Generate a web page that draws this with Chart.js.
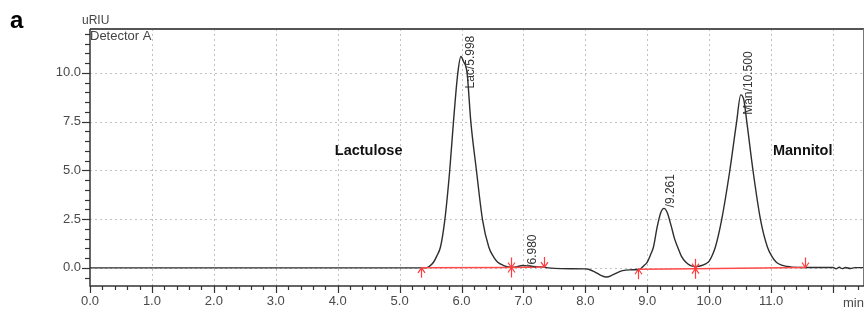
<!DOCTYPE html>
<html>
<head>
<meta charset="utf-8">
<script src="https://cdn.jsdelivr.net/npm/chart.js@4/dist/chart.umd.min.js"></script>
<style>
  html, body { margin: 0; padding: 0; background: #fff; }
  #wrap { position: relative; width: 865px; height: 309px; }
</style>
</head>
<body>
<div id="wrap"><canvas id="c"></canvas></div>
<script>
// ---- Data ----
const retentionTime = [0, 1, 2, 3, 4, 5, 5.40, 5.47, 5.55, 5.60, 5.66, 5.73, 5.81, 5.87, 5.94, 5.99, 6.03, 6.09, 6.15, 6.24, 6.34, 6.44, 6.52, 6.58, 6.68, 6.76, 6.85, 6.92, 6.98, 7.05, 7.15, 7.30, 7.40, 7.60, 8.00, 8.05, 8.15, 8.25, 8.34, 8.45, 8.60, 8.75, 8.88, 8.94, 9.00, 9.05, 9.10, 9.16, 9.22, 9.27, 9.32, 9.39, 9.44, 9.49, 9.55, 9.62, 9.70, 9.80, 9.88, 9.95, 10.00, 10.05, 10.10, 10.20, 10.33, 10.44, 10.51, 10.56, 10.61, 10.71, 10.83, 10.94, 11.02, 11.08, 11.16, 11.26, 11.34, 11.50, 11.80, 12.00, 12.05, 12.10, 12.15, 12.20, 12.28, 12.35, 12.50];
const signal = [0, 0, 0, 0, 0, 0, 0.0, 0.05, 0.3, 0.6, 1.07, 2.45, 5.02, 7.5, 9.99, 10.84, 10.6, 9.99, 7.5, 5.02, 2.45, 1.07, 0.55, 0.3, 0.12, 0.05, 0.04, 0.08, 0.12, 0.10, 0.07, 0.05, 0.0, -0.04, -0.05, -0.07, -0.2, -0.38, -0.47, -0.35, -0.14, -0.1, -0.07, 0.1, 0.3, 0.65, 1.07, 2.1, 2.85, 3.05, 2.85, 2.1, 1.5, 1.07, 0.6, 0.3, 0.12, 0.07, 0.12, 0.22, 0.35, 0.65, 1.07, 2.45, 4.93, 7.42, 8.87, 8.6, 7.42, 4.93, 2.45, 1.07, 0.55, 0.3, 0.15, 0.07, 0.04, 0.02, 0.02, 0.02, -0.05, 0.03, -0.04, 0.02, -0.03, 0.01, 0.01];

const integrationTimes  = [5.35, 6.80, 7.33, 8.85, 9.77, 11.55];
const integrationLevels = [0.0, 0.02, 0.04, -0.07, -0.04, 0.02];
const integrationMarks  = ['up', 'both', 'down', 'up', 'both', 'down'];

const peakLabelText  = ['Lac/5.998', '/6.980', '/9.261', 'Man/10.500'];
const peakLabelTime  = [6.14, 7.15, 9.38, 10.64];
const peakLabelLevel = [9.2, 0.0, 3.1, 7.85];

const compoundNames = ['Lactulose', 'Mannitol'];
const compoundTime  = [4.5, 11.51];
const compoundLevel = [6.0, 6.0];

const xTickValues = [0, 1, 2, 3, 4, 5, 6, 7, 8, 9, 10, 11, 12];
const xTickLabels = ['0.0', '1.0', '2.0', '3.0', '4.0', '5.0', '6.0', '7.0', '8.0', '9.0', '10.0', '11.0', 'min'];
const yTickValues = [0, 2.5, 5, 7.5, 10];
const yTickLabels = ['0.0', '2.5', '5.0', '7.5', '10.0'];

// ---- Build datasets ----
const tracePoints = retentionTime.map((t, i) => ({ x: t, y: signal[i] }));
const basePoints = [];
integrationTimes.forEach((t, i) => {
  basePoints.push({ x: t, y: integrationLevels[i] });
  if (integrationMarks[i] === 'down' && i < integrationTimes.length - 1) {
    basePoints.push({ x: (t + integrationTimes[i + 1]) / 2, y: null });
  }
});

const FONT = '"Liberation Sans", Arial, sans-serif';

const decor = {
  id: 'decor',
  beforeDatasetsDraw(chart) {
    const { ctx, chartArea: a, scales: { x, y } } = chart;
    ctx.save();
    ctx.strokeStyle = '#c2c2c2';
    ctx.lineWidth = 1;
    ctx.setLineDash([2, 3]);
    xTickValues.forEach(v => {
      if (v === 0) return;
      const px = Math.round(x.getPixelForValue(v)) + 0.5;
      ctx.beginPath(); ctx.moveTo(px, a.top); ctx.lineTo(px, a.bottom); ctx.stroke();
    });
    yTickValues.forEach(v => {
      const py = Math.round(y.getPixelForValue(v)) + 0.5;
      ctx.beginPath(); ctx.moveTo(a.left, py); ctx.lineTo(a.right, py); ctx.stroke();
    });
    ctx.restore();
  },
  afterDatasetsDraw(chart) {
    const { ctx, chartArea: a, scales: { x, y } } = chart;
    ctx.save();
    // frame
    ctx.setLineDash([]);
    ctx.strokeStyle = '#555';
    ctx.lineWidth = 2;
    ctx.beginPath(); ctx.moveTo(a.left, a.top); ctx.lineTo(a.right, a.top); ctx.stroke();
    ctx.lineWidth = 1;
    ctx.strokeStyle = '#777';
    ctx.beginPath(); ctx.moveTo(a.right - 0.5, a.top); ctx.lineTo(a.right - 0.5, a.bottom); ctx.stroke();
    ctx.strokeStyle = '#333';
    ctx.lineWidth = 1.5;
    ctx.beginPath(); ctx.moveTo(a.left, a.top); ctx.lineTo(a.left, a.bottom); ctx.lineTo(a.right, a.bottom); ctx.stroke();
    // x ticks (major 1.0, minor 0.2)
    ctx.lineWidth = 1.2;
    for (let k = 0; k <= 62; k++) {
      const v = k * 0.2;
      if (v > x.max) break;
      const px = Math.round(x.getPixelForValue(v)) + 0.5;
      const major = k % 5 === 0;
      ctx.beginPath(); ctx.moveTo(px, a.bottom); ctx.lineTo(px, a.bottom + (major ? 7 : 4)); ctx.stroke();
    }
    // y ticks (major 2.5, minor 0.5)
    for (let k = -1; k <= 24; k++) {
      const v = k * 0.5;
      if (v > y.max || v < y.min) continue;
      const py = Math.round(y.getPixelForValue(v)) + 0.5;
      const major = k % 5 === 0;
      ctx.beginPath(); ctx.moveTo(a.left, py); ctx.lineTo(a.left - (major ? 8 : 5), py); ctx.stroke();
    }
    // "min" unit label
    ctx.fillStyle = '#4a4a4a';
    ctx.font = '13px ' + FONT;
    ctx.textAlign = 'left';
    ctx.textBaseline = 'middle';
    const minIdx = xTickLabels.indexOf('min');
    ctx.fillText('min', x.getPixelForValue(xTickValues[minIdx]) + 10, a.bottom + 17);
    // axis header
    ctx.fillStyle = '#444';
    ctx.font = '12px ' + FONT;
    ctx.fillText('uRIU', 82, 21);
    ctx.font = '13px ' + FONT;
    ctx.fillText('Detector A', a.left, 36);
    // panel letter
    ctx.fillStyle = '#000';
    ctx.font = 'bold 24px ' + FONT;
    ctx.fillText('a', 10, 21);
    // integration markers
    ctx.strokeStyle = '#ff3b3b';
    ctx.lineWidth = 1.2;
    integrationTimes.forEach((t, i) => {
      const px = Math.round(x.getPixelForValue(t)) + 0.5;
      const py = y.getPixelForValue(integrationLevels[i]);
      const m = integrationMarks[i];
      if (m === 'up' || m === 'both') {
        ctx.beginPath();
        ctx.moveTo(px, py + 10); ctx.lineTo(px, py);
        ctx.moveTo(px - 3.5, py + 5); ctx.lineTo(px, py); ctx.lineTo(px + 3.5, py + 5);
        ctx.stroke();
      }
      if (m === 'down' || m === 'both') {
        ctx.beginPath();
        ctx.moveTo(px, py - 10); ctx.lineTo(px, py);
        ctx.moveTo(px - 3.5, py - 5); ctx.lineTo(px, py); ctx.lineTo(px + 3.5, py - 5);
        ctx.stroke();
      }
    });
    // peak labels (rotated)
    ctx.fillStyle = '#333';
    ctx.font = '12px ' + FONT;
    ctx.textAlign = 'left';
    ctx.textBaseline = 'middle';
    peakLabelText.forEach((txt, i) => {
      const px = x.getPixelForValue(peakLabelTime[i]);
      const py = y.getPixelForValue(peakLabelLevel[i]);
      ctx.save();
      ctx.translate(px, py);
      ctx.rotate(-Math.PI / 2);
      ctx.fillText(txt, 0, 0);
      ctx.restore();
    });
    // compound names
    ctx.fillStyle = '#111';
    ctx.font = 'bold 14.5px ' + FONT;
    ctx.textAlign = 'center';
    compoundNames.forEach((n, i) => {
      ctx.fillText(n, x.getPixelForValue(compoundTime[i]), y.getPixelForValue(compoundLevel[i]));
    });
    ctx.restore();
  }
};

new Chart(document.getElementById('c'), {
  type: 'line',
  data: {
    datasets: [
      {
        label: 'Integration baseline',
        data: basePoints,
        borderColor: '#ff4a4a',
        borderWidth: 1.5,
        pointRadius: 0,
        tension: 0,
        spanGaps: false,
        order: 0
      },
      {
        label: 'Detector A',
        data: tracePoints,
        borderColor: '#2e2e2e',
        borderWidth: 1.4,
        pointRadius: 0,
        cubicInterpolationMode: 'monotone',
        order: 1
      }
    ]
  },
  options: {
    responsive: true,
    maintainAspectRatio: false,
    animation: false,
    devicePixelRatio: 1,
    layout: { padding: { top: 29, right: 1, left: 0, bottom: 0 } },
    plugins: { legend: { display: false }, tooltip: { enabled: false } },
    scales: {
      x: {
        type: 'linear',
        min: 0,
        max: 12.5,
        grid: { display: false, drawTicks: false, tickLength: 0 },
        border: { display: false },
        afterFit(s) { s.height = 23; },
        ticks: {
          stepSize: 1,
          includeBounds: false,
          autoSkip: false,
          maxRotation: 0,
          padding: 8,
          color: '#4a4a4a',
          font: { family: FONT, size: 13 },
          callback(v) {
            const i = xTickValues.indexOf(v);
            if (i < 0) return '';
            return xTickLabels[i] === 'min' ? '' : xTickLabels[i];
          }
        }
      },
      y: {
        type: 'linear',
        min: -0.93,
        max: 12.25,
        grid: { display: false, drawTicks: false, tickLength: 0 },
        border: { display: false },
        afterFit(s) { s.width = 90; },
        ticks: {
          stepSize: 2.5,
          includeBounds: false,
          autoSkip: false,
          padding: 9,
          color: '#4a4a4a',
          font: { family: FONT, size: 13 },
          callback(v) {
            const i = yTickValues.indexOf(v);
            return i < 0 ? '' : yTickLabels[i];
          }
        }
      }
    }
  },
  plugins: [decor]
});
</script>
</body>
</html>
